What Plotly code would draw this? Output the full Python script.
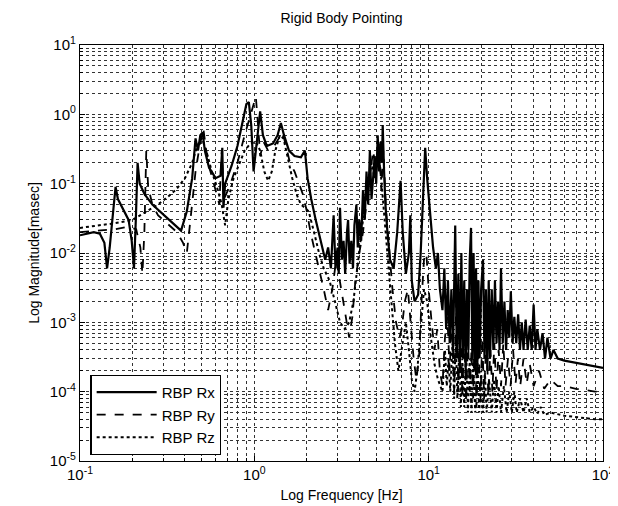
import plotly.graph_objects as go

# ---------------- data ----------------
rx_freq = [0.100, 0.110, 0.120, 0.130, 0.138, 0.143, 0.148, 0.155, 0.160, 0.165, 0.175, 0.190, 0.198, 0.204,
           0.209, 0.214, 0.220, 0.235, 0.26, 0.30, 0.34, 0.38, 0.41, 0.44, 0.46, 0.475, 0.49, 0.505, 0.52, 0.55,
           0.60, 0.64, 0.655, 0.665, 0.68, 0.74, 0.80, 0.86, 0.90, 0.93, 0.96, 0.99, 1.03, 1.08, 1.12, 1.18,
           1.28, 1.36, 1.42, 1.48, 1.58, 1.70, 1.85, 1.95, 2.02, 2.12, 2.25, 2.40,
           2.55, 2.65, 2.75, 2.85, 2.92, 3.0, 3.05, 3.1, 3.18, 3.25, 3.32, 3.4, 3.45, 3.52, 3.6, 3.68, 3.75,
           3.85, 3.92, 4.0, 4.1, 4.2, 4.3, 4.4, 4.5, 4.6, 4.7, 4.8, 4.9, 5.0, 5.1, 5.2, 5.3, 5.4, 5.45, 5.55,
           5.65, 5.8, 6.0, 6.3, 6.6, 6.9, 7.1, 7.4, 7.7, 7.85, 8.0, 8.3, 8.7, 9.0, 9.3, 9.55, 9.8,
           10.2, 10.6, 11.0, 11.3, 11.6, 12.0, 12.3, 12.6, 12.9, 13.2, 13.5, 13.8, 14.2, 14.5, 14.8, 15.1,
           15.4, 15.7, 16.0, 16.3, 16.6, 16.9, 17.2, 17.5, 17.8, 18.1, 18.4, 18.7, 19.0, 19.3, 19.6, 20.0,
           20.5, 20.9, 21.3, 21.7, 22.1, 22.5, 23.0, 23.5, 24.0, 24.5, 25.0, 25.5, 26.0, 26.6, 27.2, 27.8,
           28.4, 29.0, 29.6, 30.3, 31.0, 31.8, 32.6, 33.4, 34.2, 35.0, 36.0, 37.0, 38.0, 39.0, 40.0, 41.0,
           42.0, 43.5, 45.0, 46.5, 48.0, 50.0, 52.0, 55.0, 60.0, 70.0, 80.0, 90.0, 100.0]
rx_mag = [0.018, 0.019, 0.020, 0.019, 0.014, 0.006, 0.012, 0.04, 0.09, 0.06, 0.045, 0.03, 0.015, 0.006,
          0.03, 0.20, 0.10, 0.07, 0.05, 0.036, 0.027, 0.021, 0.04, 0.12, 0.45, 0.3, 0.5, 0.55, 0.3, 0.17,
          0.12, 0.13, 0.33, 0.045, 0.10, 0.18, 0.35, 0.8, 1.4, 1.5, 0.7, 0.15, 0.4, 1.1, 0.5, 0.35,
          0.38, 0.5, 0.75, 0.5, 0.3, 0.25, 0.24, 0.3, 0.12, 0.06, 0.03, 0.015,
          0.008, 0.012, 0.006, 0.035, 0.006, 0.012, 0.005, 0.045, 0.008, 0.015, 0.005, 0.02, 0.03, 0.007, 0.015,
          0.006, 0.025, 0.05, 0.012, 0.03, 0.015, 0.08, 0.03, 0.15, 0.05, 0.3, 0.06, 0.12, 0.25, 0.1, 0.5,
          0.15, 0.4, 0.2, 0.7, 0.15, 0.05, 0.02, 0.008, 0.006, 0.02, 0.11, 0.02, 0.005, 0.01, 0.035, 0.004,
          0.002, 0.0025, 0.01, 0.1, 0.33, 0.12,
          0.04, 0.012, 0.006, 0.01, 0.003, 0.0015, 0.006, 0.0008, 0.004, 0.0005, 0.003, 0.0004, 0.025, 0.0003,
          0.005, 0.0002, 0.01, 0.0003, 0.004, 0.0002, 0.003, 0.0004, 0.008, 0.023, 0.0003, 0.01, 0.0002, 0.006,
          0.0002, 0.004, 0.0003, 0.003, 0.008, 0.0003, 0.003, 0.0002, 0.004, 0.0003, 0.003, 0.0004, 0.004,
          0.0005, 0.002, 0.0004, 0.006, 0.0005, 0.002, 0.0004, 0.0015, 0.0006, 0.0028, 0.0005, 0.0012,
          0.0005, 0.0013, 0.0004, 0.001, 0.0004, 0.0011, 0.0004, 0.0009, 0.0004, 0.0018, 0.0004, 0.0008,
          0.0004, 0.0007, 0.0003, 0.0006, 0.0003, 0.0004, 0.0003, 0.00028, 0.00026, 0.00024, 0.00023, 0.00022]

ry_freq = [0.10, 0.13, 0.16, 0.19, 0.21, 0.222, 0.228, 0.234, 0.240, 0.246, 0.26, 0.28, 0.30, 0.33, 0.36,
           0.39, 0.41, 0.43, 0.46, 0.49, 0.51, 0.53, 0.56, 0.60, 0.63, 0.65, 0.67, 0.72, 0.80, 0.88, 0.95, 1.0,
           1.02, 1.05, 1.08, 1.13, 1.2, 1.3, 1.38, 1.45, 1.52, 1.6, 1.7, 1.8, 1.9, 2.0, 2.1, 2.2, 2.35, 2.5,
           2.65, 2.8, 2.95, 3.1, 3.3, 3.5, 3.65, 3.8, 4.0, 4.2, 4.4, 4.6, 4.8, 5.0, 5.2, 5.35, 5.5, 5.7, 5.95,
           6.2, 6.5, 6.8, 7.0, 7.3, 7.6, 7.9, 8.2, 8.5, 8.8, 9.1, 9.4, 9.7,
           10.0, 10.4, 10.8, 11.2, 11.6, 12.0, 12.4, 12.8, 13.2, 13.6, 14.0, 14.4, 14.8, 15.2, 15.6, 16.0,
           16.4, 16.8, 17.2, 17.6, 18.0, 18.4, 18.8, 19.3, 19.8, 20.3, 20.8, 21.4, 22.0, 22.6, 23.2, 23.8,
           24.5, 25.2, 26.0, 26.8, 27.6, 28.5, 29.5, 30.5, 31.5, 32.5, 33.5, 35.0, 36.5, 38.0, 40.0, 43.0,
           46.0, 50.0, 55.0, 60.0, 70.0, 80.0, 90.0, 100.0]
ry_mag = [0.020, 0.021, 0.022, 0.024, 0.022, 0.012, 0.005, 0.02, 0.30, 0.09, 0.05, 0.035, 0.03, 0.025, 0.02,
          0.014, 0.010, 0.03, 0.15, 0.4, 0.62, 0.3, 0.15, 0.08, 0.05, 0.3, 0.06, 0.09, 0.2, 0.5, 1.0, 1.5,
          1.8, 0.7, 0.25, 0.4, 0.3, 0.35, 0.45, 0.55, 0.35, 0.2, 0.15, 0.1, 0.07, 0.04, 0.02, 0.012, 0.006, 0.003,
          0.0015, 0.003, 0.008, 0.004, 0.0015, 0.0006, 0.0012, 0.004, 0.01, 0.02, 0.05, 0.12, 0.3, 0.15, 0.4,
          0.08, 0.3, 0.04, 0.01, 0.003, 0.001, 0.0006, 0.0008, 0.002, 0.003, 0.001, 0.0003, 0.00015, 0.0003,
          0.002, 0.008, 0.01,
          0.003, 0.001, 0.0004, 0.0008, 0.0002, 0.00012, 0.0006, 0.0012, 0.0002, 0.0015, 0.0001, 0.002,
          0.0001, 0.0015, 0.00008, 0.0008, 0.00007, 0.0006, 0.0001, 0.0004, 0.00008, 0.001, 0.00006, 0.0005,
          0.00007, 0.0006, 0.00008, 0.0006, 0.00009, 0.0004, 0.0001, 0.0005, 0.0001, 0.0004, 0.00012, 0.0005,
          0.00012, 0.0003, 0.00012, 0.0004, 0.00013, 0.0003, 0.00012, 0.0003, 0.00013, 0.00025, 0.00012,
          0.0002, 0.00011, 0.00015, 0.00012, 0.00012, 0.00011, 0.000105, 0.0001, 0.0001]

rz_freq = [0.10, 0.13, 0.16, 0.20, 0.24, 0.28, 0.32, 0.36, 0.40, 0.44, 0.47, 0.50, 0.53, 0.57, 0.61, 0.65,
           0.68, 0.71, 0.76, 0.82, 0.88, 0.95, 1.02, 1.08, 1.14, 1.2, 1.26, 1.32, 1.40, 1.47, 1.55, 1.65, 1.75,
           1.85, 1.95, 2.05, 2.2, 2.35, 2.5, 2.7, 2.9, 3.1, 3.3, 3.5, 3.7, 3.9, 4.1, 4.3, 4.5, 4.7, 4.9, 5.1,
           5.3, 5.5, 5.8, 6.1, 6.4, 6.7, 7.0, 7.4, 7.7, 8.0, 8.3, 8.6, 9.0, 9.4, 9.8, 10.3, 10.8, 11.3, 12.0,
           12.4, 12.7, 13.0, 13.3, 13.7, 14.0, 14.3, 14.6, 15.0, 15.3, 15.6, 16.0, 16.4, 16.8, 17.2, 17.6,
           18.0, 18.5, 19.0, 19.5, 20.0, 20.5, 21.0, 21.5, 22.2, 23.0, 23.7, 24.5, 25.2, 26.0, 27.0, 28.0,
           29.0, 30.0, 31.0, 32.0, 33.5, 35.0, 36.5, 38.0, 40.0, 42.0, 44.0, 46.0, 50.0, 60.0, 70.0, 80.0,
           90.0, 100.0]
rz_mag = [0.023, 0.025, 0.027, 0.03, 0.04, 0.05, 0.065, 0.085, 0.12, 0.2, 0.35, 0.45, 0.3, 0.15, 0.09, 0.05,
          0.025, 0.06, 0.12, 0.2, 0.3, 0.38, 0.4, 0.3, 0.15, 0.11, 0.15, 0.3, 0.5, 0.45, 0.25, 0.12, 0.07,
          0.05, 0.045, 0.04, 0.02, 0.01, 0.006, 0.004, 0.002, 0.001, 0.0008, 0.001, 0.002, 0.006, 0.02, 0.05,
          0.1, 0.2, 0.12, 0.3, 0.15, 0.05, 0.01, 0.002, 0.0005, 0.0002, 0.0004, 0.001, 0.0004, 0.00015, 0.0001,
          0.0002, 0.0008, 0.003, 0.002, 0.0006, 0.00025, 0.00015, 0.0001,
          0.0004, 0.00012, 0.0003, 0.0001, 0.0005, 0.00008, 0.0006, 0.00008, 0.0004, 0.00006, 0.0003,
          0.00006, 0.0004, 0.00005, 0.0003, 0.00005, 0.0003, 0.00005, 0.0003, 0.00005, 0.0002, 0.00005,
          0.0002, 0.00005, 0.00015, 0.00005, 0.00015, 0.00005, 0.00012, 0.00005, 0.00012, 0.00005, 0.0001,
          0.00005, 0.0001, 0.00005, 0.00008, 0.00005, 0.00008, 0.00005, 0.00006, 0.000048, 0.00006,
          0.000046, 0.00005, 0.000045, 0.000043, 0.000042, 0.00004, 0.00004]

series_names = ["RBP Rx", "RBP Ry", "RBP Rz"]

x_tickvals = [0.1, 1, 10, 100]
x_ticktext = ["10<sup>-1</sup>", "10<sup>0</sup>", "10<sup>1</sup>", "10<sup>2</sup>"]
y_tickvals = [1e-5, 1e-4, 1e-3, 1e-2, 1e-1, 1, 10]
y_ticktext = ["10<sup>-5</sup>", "10<sup>-4</sup>", "10<sup>-3</sup>", "10<sup>-2</sup>",
              "10<sup>-1</sup>", "10<sup>0</sup>", "10<sup>1</sup>"]

x_minor = [m * 10.0 ** e for e in (-1, 0, 1) for m in range(2, 10)]
y_minor = [m * 10.0 ** e for e in range(-5, 1) for m in range(2, 10)]

# ---------------- figure ----------------
FONT = "Arial, Liberation Sans"
fig = go.Figure()
fig.add_trace(go.Scatter(x=rx_freq, y=rx_mag, mode="lines", name=series_names[0],
                         line=dict(color="black", width=2.2, dash="solid")))
fig.add_trace(go.Scatter(x=ry_freq, y=ry_mag, mode="lines", name=series_names[1],
                         line=dict(color="black", width=1.8, dash="dash")))
fig.add_trace(go.Scatter(x=rz_freq, y=rz_mag, mode="lines", name=series_names[2],
                         line=dict(color="black", width=2.0, dash="dot")))

grid = dict(gridcolor="#333333", gridwidth=0.8, griddash="3px,3px")
axis_common = dict(showline=True, linecolor="black", linewidth=1.2, mirror=True,
                   ticks="inside", ticklen=5, tickcolor="black",
                   tickfont=dict(family=FONT, size=15, color="black"),
                   showgrid=True, zeroline=False, **grid)

fig.update_xaxes(type="log", range=[-1, 2], tickmode="array", tickvals=x_tickvals, ticktext=x_ticktext,
                 minor=dict(tickmode="array", tickvals=x_minor, ticks="inside", ticklen=3,
                            tickcolor="black", showgrid=True, **grid),
                 title=dict(text="Log Frequency [Hz]", standoff=8,
                            font=dict(family=FONT, size=14, color="black")),
                 **axis_common)
fig.update_yaxes(type="log", range=[-5, 1], tickmode="array", tickvals=y_tickvals, ticktext=y_ticktext,
                 minor=dict(tickmode="array", tickvals=y_minor, ticks="inside", ticklen=3,
                            tickcolor="black", showgrid=True, **grid),
                 title=dict(text="Log Magnitude[masec]", standoff=6,
                            font=dict(family=FONT, size=14, color="black")),
                 **axis_common)

fig.update_layout(
    width=618, height=506,
    margin=dict(l=72, r=16, t=37, b=53),
    paper_bgcolor="white", plot_bgcolor="white",
    title=dict(text="Rigid Body Pointing", x=0.5, xref="paper", y=1 - 10 / 506, yref="container",
               yanchor="middle", pad=dict(t=0), font=dict(family=FONT, size=14, color="black")),
    legend=dict(x=0.02, y=0.015, xanchor="left", yanchor="bottom", bgcolor="white",
                bordercolor="black", borderwidth=1.2,
                font=dict(family=FONT, size=15, color="black"),
                itemwidth=60, tracegroupgap=2),
    showlegend=True,
)

fig.write_html("out.html")
